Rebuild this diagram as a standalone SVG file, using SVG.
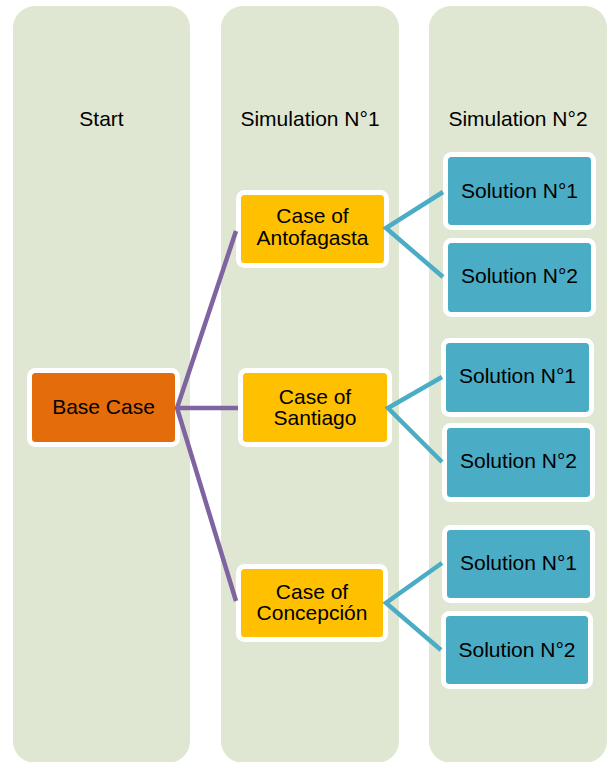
<svg xmlns="http://www.w3.org/2000/svg" width="607" height="762" viewBox="0 0 607 762">
<style>
.col{fill:#DFE7D2;}
.node rect{stroke:#FFFFFF;stroke-width:5;}
.base{fill:#E46C0A;}
.case{fill:#FFC000;}
.sol{fill:#4BACC6;}
text{font-family:"Liberation Sans",Arial,sans-serif;font-size:21px;fill:#000000;text-anchor:middle;}
.p{stroke:#8064A2;stroke-width:4.5;fill:none;stroke-linejoin:miter;}
.t{stroke:#4BACC6;stroke-width:4.5;fill:none;stroke-linejoin:miter;}
</style>
<rect width="607" height="762" fill="#FFFFFF"/>
<g id="columns">
<rect class="col" x="13" y="6" width="177" height="757" rx="22"/>
<rect class="col" x="221" y="6" width="178" height="757" rx="22"/>
<rect class="col" x="429" y="6" width="178" height="757" rx="22"/>
<text x="101.5" y="126">Start</text>
<text x="310" y="126">Simulation N°1</text>
<text x="518" y="126">Simulation N°2</text>
</g>
<g id="base" class="node"><rect class="base" x="29.5" y="370.5" width="148" height="74" rx="6"/><text x="103.5" y="414">Base Case</text></g>
<g id="antofagasta" class="node"><rect class="case" x="238.5" y="192.5" width="148" height="73" rx="6"/><text x="312.5" y="223">Case of</text><text x="312.5" y="245">Antofagasta</text></g>
<g id="santiago" class="node"><rect class="case" x="240.5" y="370.5" width="149" height="74" rx="6"/><text x="315" y="404">Case of</text><text x="315" y="425">Santiago</text></g>
<g id="concepcion" class="node"><rect class="case" x="238.5" y="566.5" width="147" height="73" rx="6"/><text x="312" y="599">Case of</text><text x="312" y="620">Concepción</text></g>
<g id="sol-a1" class="node"><rect class="sol" x="445.5" y="154.5" width="148" height="73" rx="6"/><text x="519.5" y="198">Solution N°1</text></g>
<g id="sol-a2" class="node"><rect class="sol" x="445.5" y="240.5" width="148" height="74" rx="6"/><text x="519.5" y="283">Solution N°2</text></g>
<g id="sol-s1" class="node"><rect class="sol" x="443.5" y="340.5" width="148" height="74" rx="6"/><text x="517.5" y="383">Solution N°1</text></g>
<g id="sol-s2" class="node"><rect class="sol" x="444.5" y="425.5" width="148" height="74" rx="6"/><text x="518.5" y="468">Solution N°2</text></g>
<g id="sol-c1" class="node"><rect class="sol" x="444.5" y="527.5" width="148" height="73" rx="6"/><text x="518.5" y="570">Solution N°1</text></g>
<g id="sol-c2" class="node"><rect class="sol" x="443.5" y="613.5" width="147" height="73" rx="6"/><text x="517" y="657">Solution N°2</text></g>
<g id="connectors">
<path class="p" d="M236,231 L177,408 L236,601"/>
<path class="p" d="M177,408 L238,408"/>
<path class="t" d="M443,192 L386,228 L443,277"/>
<path class="t" d="M442,377 L388,408 L442,462"/>
<path class="t" d="M442,563 L386,603 L441,650"/>
</g>
</svg>
